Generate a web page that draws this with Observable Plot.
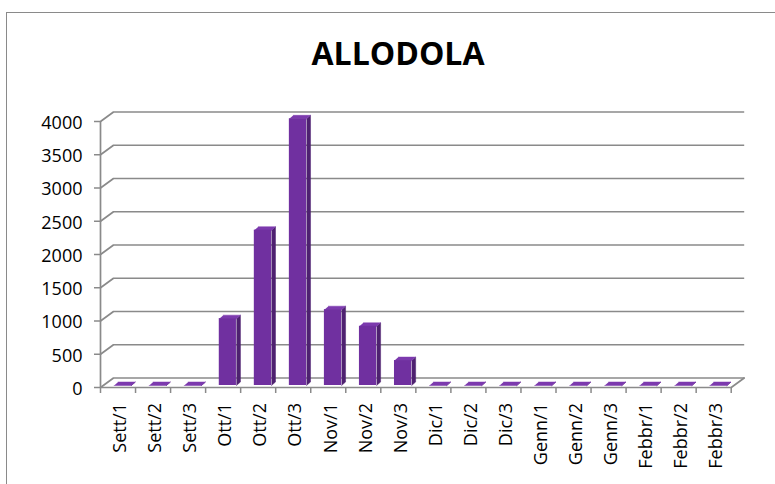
<!DOCTYPE html>
<html>
<head>
<meta charset="utf-8">
<script src="https://cdn.jsdelivr.net/npm/d3@7"></script>
<script src="https://cdn.jsdelivr.net/npm/@observablehq/plot@0.6"></script>
<style>
  html, body { margin: 0; padding: 0; background: #fff; width: 775px; height: 484px; overflow: hidden; }
  #wrap { position: relative; width: 775px; height: 484px; }
  #frame { position: absolute; left: 6px; top: 12px; width: 820px; height: 520px; border: 1.5px solid #8a8a8a; box-sizing: border-box; }
  #title { position: absolute; left: 0; width: 796px; top: 37px; text-align: center; font-family: "Open Sans", sans-serif; font-weight: 700; font-size: 32px; line-height: 32px; color: #000; }
  #chart { position: absolute; left: 0; top: 0; }
</style>
</head>
<body>
<div id="wrap">
  <div id="frame"></div>
  <div id="chart"></div>
  <div id="title">ALLODOLA</div>
</div>
<script>
// ---- data ----
const categories = ["Sett/1","Sett/2","Sett/3","Ott/1","Ott/2","Ott/3","Nov/1","Nov/2","Nov/3",
                    "Dic/1","Dic/2","Dic/3","Genn/1","Genn/2","Genn/3","Febbr/1","Febbr/2","Febbr/3"];
const values = [0, 0, 0, 1005, 2335, 4010, 1140, 890, 375, 0, 0, 0, 0, 0, 0, 0, 0, 0];
const yTicks = [0, 500, 1000, 1500, 2000, 2500, 3000, 3500, 4000];

// ---- layout ----
const W = 775, H = 484;
const mL = 100, mR = 44.3, mT = 121, mB = 97;
const n = categories.length;
const yMax = yTicks[yTicks.length - 1];
const pxX = (W - mL - mR) / n;        // px per category
const pxY = (H - mT - mB) / yMax;     // px per unit
const wallDX = 13 / pxX, wallDY = 9.5 / pxY;  // 3D depth of back wall
const barDX = 4 / pxX, barDY = 3.5 / pxY;     // 3D depth of a bar
const bL = 0.39, bR = 0.88;                    // bar face within band
const grid = "#8a8a8a";
const cFront = "#7030a0", cSide = "#4e2170", cTop = "#7c3aae";

// back-wall gridlines with diagonal from front axis
const gridPts = [];
yTicks.forEach(t => {
  gridPts.push({id: t, x: 0, y: t});
  gridPts.push({id: t, x: wallDX, y: t + wallDY});
  gridPts.push({id: t, x: n + wallDX, y: t + wallDY});
});
const floorRight = [{x: n, y: 0}, {x: n + wallDX, y: wallDY}];

// bar faces
const bars = values.map((v, i) => ({i, v, x1: i + bL, x2: i + bR}));
const sidePts = [], topPts = [];
bars.forEach(b => {
  sidePts.push({id: b.i, x: b.x2, y: 0}, {id: b.i, x: b.x2 + barDX, y: barDY},
               {id: b.i, x: b.x2 + barDX, y: b.v + barDY}, {id: b.i, x: b.x2, y: b.v});
  topPts.push({id: b.i, x: b.x1, y: b.v}, {id: b.i, x: b.x2, y: b.v},
              {id: b.i, x: b.x2 + barDX, y: b.v + barDY}, {id: b.i, x: b.x1 + barDX, y: b.v + barDY});
});

const chart = Plot.plot({
  width: W, height: H,
  marginLeft: mL, marginRight: mR, marginTop: mT, marginBottom: mB,
  x: {domain: [0, n], axis: null},
  y: {domain: [0, yMax], axis: null},
  style: {fontFamily: "'Open Sans', sans-serif", fontSize: "18px", color: "#000", background: "transparent", overflow: "visible"},
  marks: [
    Plot.line(gridPts, {x: "x", y: "y", z: "id", stroke: grid, strokeWidth: 1.7, strokeLinecap: "butt"}),
    Plot.line(floorRight, {x: "x", y: "y", stroke: grid, strokeWidth: 1.7}),
    Plot.ruleY([0], {x1: 0, x2: n, stroke: grid, strokeWidth: 1.7}),
    Plot.ruleX([0], {y1: 0, y2: yMax, stroke: grid, strokeWidth: 1.7}),
    Plot.ruleY(yTicks, {y: d => d, x1: -6 / pxX, x2: 0, stroke: grid, strokeWidth: 1.5}),
    Plot.ruleX(d3.range(n + 1), {x: d => d, y1: 0, y2: -6 / pxY, stroke: grid, strokeWidth: 1.5}),
    Plot.line(sidePts, {x: "x", y: "y", z: "id", fill: cSide, stroke: cSide, strokeWidth: 0.5, dy: -2}),
    Plot.line(topPts, {x: "x", y: "y", z: "id", fill: cTop, stroke: cTop, strokeWidth: 0.5, dy: -2}),
    Plot.rect(bars, {x1: "x1", x2: "x2", y1: 0, y2: "v", fill: cFront, dy: -2}),
    Plot.text(yTicks, {x: 0, y: d => d, text: d => String(d), textAnchor: "end", lineAnchor: "middle", dx: -18, dy: 1.5, fontSize: 18, fill: "#000"}),
    Plot.text(categories, {x: (d, i) => i + 0.5, y: 0, text: d => d, rotate: -90, textAnchor: "end", lineAnchor: "middle", dx: 2.5, dy: 15.5, fontSize: 18, fill: "#000"})
  ]
});
document.getElementById("chart").appendChild(chart);
</script>
</body>
</html>
